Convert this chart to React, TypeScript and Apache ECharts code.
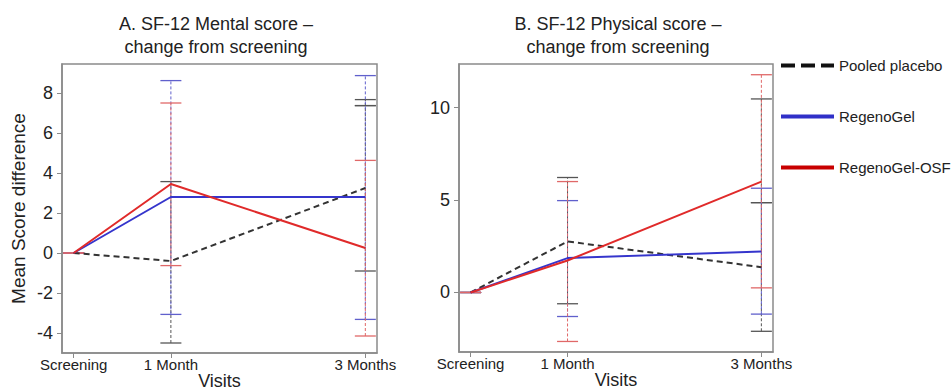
import React, { useEffect, useRef } from "react";
import * as echarts from "echarts";

const VISIT_X = [0, 1, 3];
const VISIT_LABELS = ["Screening", "1 Month", "3 Months"];
const SERIES_NAMES = ["Pooled placebo", "RegenoGel", "RegenoGel-OSF"];
const TITLE_A = ["A. SF-12 Mental score –", "change from screening"];
const TITLE_B = ["B. SF-12 Physical score –", "change from screening"];

// Panel A – SF-12 Mental score change
const A_PLACEBO = [0, -0.4, 3.25];
const A_REGENO = [0, 2.8, 2.8];
const A_OSF = [0, 3.45, 0.25];
const A_PLACEBO_LOW = [0, -4.5, -0.9];
const A_PLACEBO_HIGH = [0, 3.57, 7.67];
const A_REGENO_LOW = [0, -3.07, -3.32];
const A_REGENO_HIGH = [0, 8.62, 8.87];
const A_OSF_LOW = [0, -0.63, -4.15];
const A_OSF_HIGH = [0, 7.5, 4.63];
const A_PLACEBO_EXTRA_CAP_X = [3];
const A_PLACEBO_EXTRA_CAP_Y = [7.37];

// Panel B – SF-12 Physical score change
const B_PLACEBO = [0, 2.76, 1.37];
const B_REGENO = [0, 1.86, 2.22];
const B_OSF = [0, 1.73, 6.0];
const B_PLACEBO_LOW = [0, -0.61, -2.1];
const B_PLACEBO_HIGH = [0, 6.22, 10.47];
const B_REGENO_LOW = [0, -1.3, -1.17];
const B_REGENO_HIGH = [0, 4.97, 5.64];
const B_OSF_LOW = [0, -2.65, 0.25];
const B_OSF_HIGH = [0, 6.0, 11.78];
const B_PLACEBO_EXTRA_CAP_X = [3];
const B_PLACEBO_EXTRA_CAP_Y = [4.86];

const A_Y_TICKS = [-4, -2, 0, 2, 4, 6, 8];
const B_Y_TICKS = [0, 5, 10];

const FONT = "'Liberation Sans', Arial, sans-serif";
const LINE_COLORS = ["#333333", "#3535cc", "#e02a2a"];
const LEGEND_COLORS = ["#111111", "#3030c8", "#c80000"];
const ERR_COLORS = ["#555555", "#6060cc", "#e06868"];

function pts(vals: number[]) {
  return vals.map((v, i) => [VISIT_X[i], v]);
}
function errs(lo: number[], hi: number[]) {
  return lo.map((l, i) => [VISIT_X[i], l, hi[i]]);
}

function errSeries(name: string, idx: number, data: number[][], color: string) {
  return {
    type: "custom",
    name,
    xAxisIndex: idx,
    yAxisIndex: idx,
    z: 1,
    silent: true,
    clip: false,
    data,
    renderItem: (params: any, api: any) => {
      const x = api.value(0);
      const lo = api.value(1);
      const hi = api.value(2);
      const pLo = api.coord([x, lo]);
      const pHi = api.coord([x, hi]);
      const half = 10.5;
      return {
        type: "group",
        children: [
          {
            type: "line",
            shape: { x1: pLo[0], y1: pLo[1], x2: pHi[0], y2: pHi[1] },
            style: { stroke: color, lineWidth: 1, lineDash: [3, 2] },
          },
          {
            type: "line",
            shape: { x1: pHi[0] - half, y1: pHi[1], x2: pHi[0] + half, y2: pHi[1] },
            style: { stroke: color, lineWidth: 1.3 },
          },
          {
            type: "line",
            shape: { x1: pLo[0] - half, y1: pLo[1], x2: pLo[0] + half, y2: pLo[1] },
            style: { stroke: color, lineWidth: 1.3 },
          },
        ],
      };
    },
  };
}

function lineSeries(nameIdx: number, idx: number, vals: number[]) {
  return {
    type: "line",
    name: SERIES_NAMES[nameIdx],
    xAxisIndex: idx,
    yAxisIndex: idx,
    z: 3,
    symbol: "none",
    data: pts(vals),
    lineStyle: {
      color: LINE_COLORS[nameIdx],
      width: 2,
      type: nameIdx === 0 ? [6, 4] : "solid",
    },
    itemStyle: { color: LINE_COLORS[nameIdx] },
  };
}

function xAxis(idx: number) {
  return {
    gridIndex: idx,
    type: "value",
    min: -0.12,
    max: 3.12,
    axisLine: { show: true, onZero: false, lineStyle: { color: "#8a8a8a", width: 1.5 } },
    axisTick: { show: true, customValues: VISIT_X, length: 5, lineStyle: { color: "#8a8a8a" } },
    axisLabel: {
      customValues: VISIT_X,
      formatter: (v: number) => {
        const k = VISIT_X.indexOf(v);
        return k >= 0 ? VISIT_LABELS[k] : "";
      },
      fontSize: 15,
      color: "#222",
      fontFamily: FONT,
      margin: 4,
    },
    splitLine: { show: false },
    name: "Visits",
    nameLocation: "middle",
    nameGap: 19,
    nameMoveOverlap: false,
    nameTextStyle: { fontSize: 18, color: "#222", fontFamily: FONT },
  };
}

function yAxis(idx: number, min: number, max: number, ticks: number[], name: string) {
  return {
    gridIndex: idx,
    type: "value",
    min,
    max,
    axisLine: { show: true, onZero: false, lineStyle: { color: "#8a8a8a", width: 1.5 } },
    axisTick: { show: true, customValues: ticks, length: 5, lineStyle: { color: "#8a8a8a" } },
    axisLabel: {
      customValues: ticks,
      fontSize: 18,
      color: "#222",
      fontFamily: FONT,
      margin: 9,
    },
    splitLine: { show: false },
    name,
    nameLocation: "middle",
    nameGap: 34,
    nameMoveOverlap: false,
    nameTextStyle: { fontSize: 19, color: "#222", fontFamily: FONT },
  };
}

function titleLine(text: string, cx: number, top: number) {
  return {
    text,
    left: cx,
    top,
    padding: 0,
    textAlign: "center",
    textStyle: { fontSize: 18, fontWeight: "normal", color: "#222", fontFamily: FONT },
  };
}

export default function App() {
  const ref = useRef<HTMLDivElement>(null);
  useEffect(() => {
    document.body.style.margin = "0";
    if (!ref.current) return;
    const chart = echarts.init(ref.current, undefined, { renderer: "svg" });
    const option: any = {
      animation: false,
      backgroundColor: "#ffffff",
      textStyle: { fontFamily: FONT },
      title: [
        titleLine(TITLE_A[0], 216, 15),
        titleLine(TITLE_A[1], 216, 38),
        titleLine(TITLE_B[0], 618, 15),
        titleLine(TITLE_B[1], 618, 38),
      ],
      legend: {
        data: SERIES_NAMES.map((n, i) => ({
          name: n,
          lineStyle: {
            width: 4,
            color: LEGEND_COLORS[i],
            type: i === 0 ? [14, 6] : "solid",
          },
        })),
        orient: "vertical",
        left: 779,
        top: 58,
        padding: 0,
        itemWidth: 53,
        itemHeight: 17,
        itemGap: 36,
        itemStyle: { opacity: 0, borderWidth: 0 },
        lineStyle: { width: 4 },
        textStyle: { fontSize: 15, color: "#222", fontFamily: FONT },
        selectedMode: false,
      },
      grid: [
        { left: 62, top: 64, width: 315, height: 289, show: true, borderColor: "#8a8a8a", borderWidth: 1.5, backgroundColor: "transparent", outerBoundsMode: "none", containLabel: false },
        { left: 459, top: 64, width: 314, height: 288, show: true, borderColor: "#8a8a8a", borderWidth: 1.5, backgroundColor: "transparent", outerBoundsMode: "none", containLabel: false },
      ],
      xAxis: [xAxis(0), xAxis(1)],
      yAxis: [
        yAxis(0, -5, 9.45, A_Y_TICKS, "Mean Score difference"),
        yAxis(1, -3.22, 12.36, B_Y_TICKS, ""),
      ],
      series: [
        lineSeries(0, 0, A_PLACEBO),
        lineSeries(1, 0, A_REGENO),
        lineSeries(2, 0, A_OSF),
        lineSeries(0, 1, B_PLACEBO),
        lineSeries(1, 1, B_REGENO),
        lineSeries(2, 1, B_OSF),
        errSeries("A placebo CI", 0, [
          ...errs(A_PLACEBO_LOW, A_PLACEBO_HIGH),
          ...A_PLACEBO_EXTRA_CAP_X.map((x, i) => [x, A_PLACEBO_EXTRA_CAP_Y[i], A_PLACEBO_EXTRA_CAP_Y[i]]),
        ], ERR_COLORS[0]),
        errSeries("A RegenoGel CI", 0, errs(A_REGENO_LOW, A_REGENO_HIGH), ERR_COLORS[1]),
        errSeries("A OSF CI", 0, errs(A_OSF_LOW, A_OSF_HIGH), ERR_COLORS[2]),
        errSeries("B placebo CI", 1, [
          ...errs(B_PLACEBO_LOW, B_PLACEBO_HIGH),
          ...B_PLACEBO_EXTRA_CAP_X.map((x, i) => [x, B_PLACEBO_EXTRA_CAP_Y[i], B_PLACEBO_EXTRA_CAP_Y[i]]),
        ], ERR_COLORS[0]),
        errSeries("B RegenoGel CI", 1, errs(B_REGENO_LOW, B_REGENO_HIGH), ERR_COLORS[1]),
        errSeries("B OSF CI", 1, errs(B_OSF_LOW, B_OSF_HIGH), ERR_COLORS[2]),
      ],
    };
    chart.setOption(option);
    return () => chart.dispose();
  }, []);
  return <div ref={ref} style={{ width: 952, height: 391 }} />;
}
